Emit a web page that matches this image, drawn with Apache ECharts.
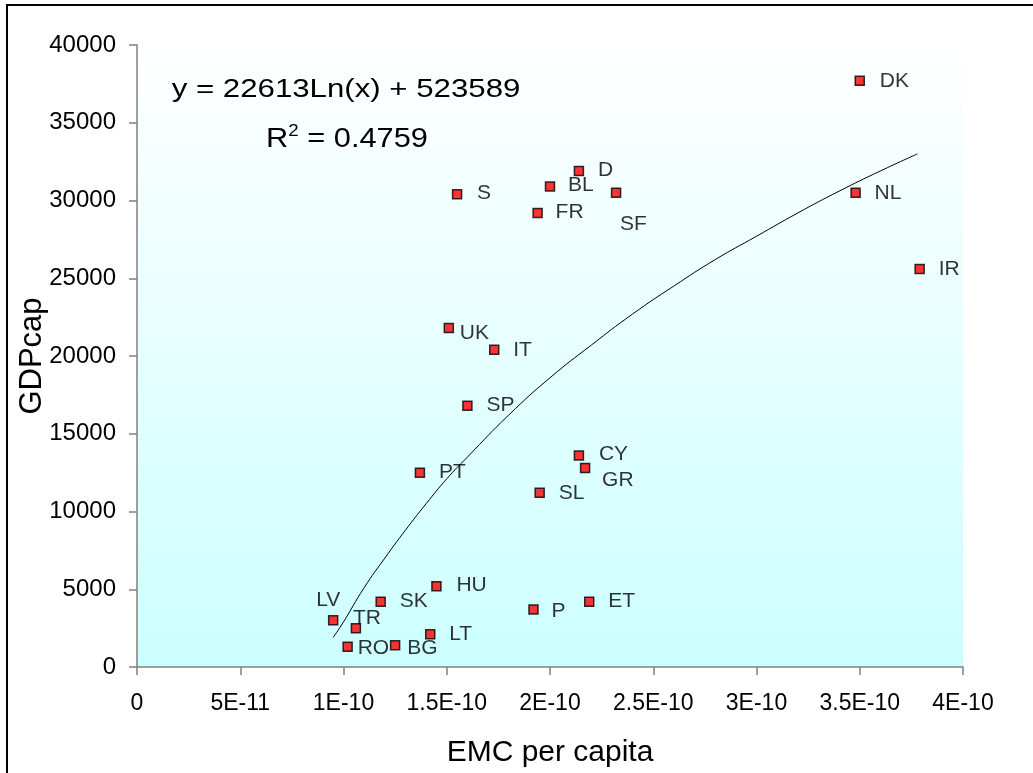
<!DOCTYPE html>
<html>
<head>
<meta charset="utf-8">
<script src="https://cdn.jsdelivr.net/npm/echarts@6/dist/echarts.min.js"></script>
<style>
html,body{margin:0;padding:0;background:#fff;}
#chart{width:1033px;height:773px;}
</style>
</head>
<body>
<div id="chart"></div>
<script>
// ---- data ----
var countries = ['DK','NL','IR','D','BL','SF','FR','S','UK','IT','SP','PT','CY','GR','SL','HU','SK','LV','TR','RO','BG','LT','P','ET'];
var emc = [3.50e-10,3.48e-10,3.79e-10,2.14e-10,2.00e-10,2.32e-10,1.94e-10,1.55e-10,1.51e-10,1.73e-10,1.60e-10,1.37e-10,2.14e-10,2.17e-10,1.95e-10,1.45e-10,1.18e-10,0.95e-10,1.06e-10,1.02e-10,1.25e-10,1.42e-10,1.92e-10,2.19e-10];
var gdp = [37700,30500,25600,31900,30900,30500,29200,30400,21800,20400,16800,12500,13600,12800,11200,5200,4200,3000,2500,1300,1400,2100,3700,4200];

// trend line points
var trendX = [0.95e-10,1.0e-10,1.1e-10,1.2e-10,1.3e-10,1.4e-10,1.5e-10,1.6e-10,1.8e-10,2.0e-10,2.2e-10,2.4e-10,2.6e-10,2.8e-10,3.0e-10,3.2e-10,3.4e-10,3.6e-10,3.78e-10];
var trendY = [1900,2900,5100,7000,8800,10500,12100,13500,16200,18600,20700,22700,24500,26200,27700,29200,30600,31900,33000];

var xTickLabels = ['0','5E-11','1E-10','1.5E-10','2E-10','2.5E-10','3E-10','3.5E-10','4E-10'];
var yTickLabels = ['0','5000','10000','15000','20000','25000','30000','35000','40000'];

var equationText = 'y = 22613Ln(x) + 523589';
var r2Text = '0.4759';

// ---- label placement (style) ----
var labelOffset = {
  DK:[20,0], NL:[19,0], IR:[19,0], D:[19,-1], BL:[18,-1], SF:[4,31], FR:[18,-1], S:[20,-1],
  UK:[11,5], IT:[19,0], SP:[19,-1], PT:[19,0], CY:[20,-1], GR:[17,12], SL:[19,0], HU:[20,-1],
  SK:[19,0], LV:[-17,-20], TR:[-3,-10], RO:[10,1], BG:[12,3], LT:[19,0], P:[18,2], ET:[19,0]
};

var pointData = countries.map(function(c,i){
  var off = labelOffset[c] || [18,0];
  return {
    name: c,
    value: [emc[i], gdp[i]],
    label: {offset: off}
  };
});
var trendData = trendX.map(function(x,i){ return [x, trendY[i]]; });

var chart = echarts.init(document.getElementById('chart'), null, {renderer:'canvas'});
var FONT = 'Liberation Sans, Arial, sans-serif';

chart.setOption({
  animation: false,
  backgroundColor: '#ffffff',
  grid: {
    left: 137, right: 70, top: 45, bottom: 106,
    show: true,
    borderWidth: 0,
    backgroundColor: new echarts.graphic.LinearGradient(0,0,0,1,[
      {offset:0, color:'#ffffff'},
      {offset:1, color:'#ccffff'}
    ])
  },
  xAxis: {
    type: 'value',
    min: 0, max: 4e-10, interval: 5e-11,
    name: 'EMC per capita',
    nameLocation: 'middle',
    nameGap: 71,
    nameTextStyle: {fontFamily: FONT, fontSize: 30, color:'#000'},
    axisLine: {show:true, lineStyle:{color:'#808080', width:1.5}},
    axisTick: {show:true, inside:false, length:8, lineStyle:{color:'#808080', width:1.5}},
    splitLine: {show:false},
    axisLabel: {
      fontFamily: FONT, fontSize: 23, color:'#000', margin: 25,
      formatter: function(v, idx){ return xTickLabels[Math.round(v/5e-11)]; }
    }
  },
  yAxis: {
    type: 'value',
    min: 0, max: 40000, interval: 5000,
    name: 'GDPcap',
    nameLocation: 'middle',
    nameGap: 89,
    nameMoveOverlap: false,
    nameRotate: 90,
    nameTextStyle: {fontFamily: FONT, fontSize: 31, color:'#000'},
    axisLine: {show:true, lineStyle:{color:'#808080', width:1.5}},
    axisTick: {show:true, inside:false, length:8, lineStyle:{color:'#808080', width:1.5}},
    splitLine: {show:false},
    axisLabel: {
      fontFamily: FONT, fontSize: 24, color:'#000', margin: 21,
      formatter: function(v){ return yTickLabels[Math.round(v/5000)]; }
    }
  },
  graphic: [
    {
      type: 'rect', silent: true, z: 100,
      shape: {x: 7, y: 5, width: 1060, height: 820},
      style: {fill: 'none', stroke: '#000', lineWidth: 2}
    },
    {
      type: 'text', z: 100,
      x: 346, y: 90, scaleX: 1.2,
      style: {
        text: equationText,
        fontFamily: FONT, fontSize: 26, fill:'#000',
        align: 'center', verticalAlign: 'middle'
      }
    },
    {
      type: 'text', z: 100,
      x: 347, y: 138, scaleX: 1.1,
      style: {
        text: '{r|R}{s|2}{r| = ' + r2Text + '}',
        align: 'center', verticalAlign: 'middle',
        rich: {
          r: {fontFamily: FONT, fontSize: 28, fill:'#000', verticalAlign:'bottom'},
          s: {fontFamily: FONT, fontSize: 17, fill:'#000', verticalAlign:'top', padding:[0,0,13,0]}
        }
      }
    }
  ],
  series: [
    {
      type: 'line',
      data: trendData,
      smooth: true,
      showSymbol: false,
      symbol: 'none',
      lineStyle: {color:'#000', width:1},
      z: 2,
      silent: true
    },
    {
      type: 'scatter',
      data: pointData,
      symbol: 'rect',
      symbolSize: 9,
      itemStyle: {color:'#ff0000', borderColor:'#000', borderWidth:1.5},
      z: 3,
      label: {
        show: true,
        position: 'inside',
        align: 'left',
        verticalAlign: 'middle',
        formatter: '{b}',
        fontFamily: FONT,
        fontSize: 21,
        color: '#000',
        textBorderWidth: 0
      }
    }
  ]
});
</script>
</body>
</html>
